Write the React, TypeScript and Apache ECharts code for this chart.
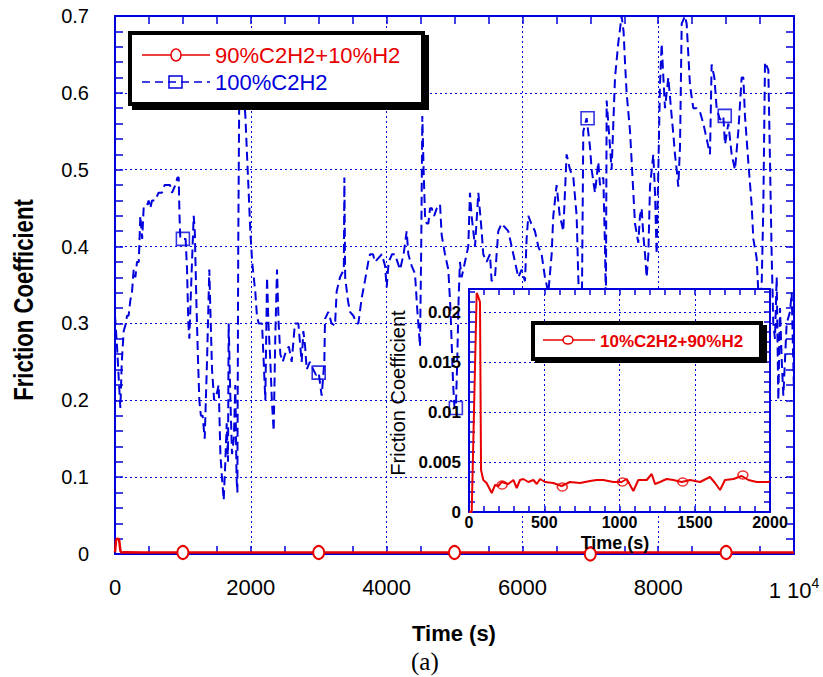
import React, { useEffect, useRef } from 'react';
import * as echarts from 'echarts';

// ---------- data ----------
const blueT = [0, 30, 60, 79, 100, 128, 160, 177, 200, 226, 250, 275, 300, 324, 350, 373, 400, 422, 460, 496, 520, 545, 594, 640, 692, 730, 766, 810, 840, 889, 920, 938, 950, 962, 990, 1011, 1040, 1061, 1080, 1095, 1110, 1134, 1159, 1175, 1198, 1220, 1242, 1265, 1291, 1321, 1355, 1389, 1410, 1429, 1460, 1502, 1527, 1552, 1575, 1601, 1625, 1645, 1664, 1674, 1700, 1723, 1750, 1772, 1790, 1802, 1815, 1830, 1860, 1895, 1920, 1944, 1969, 1993, 2020, 2067, 2090, 2116, 2165, 2190, 2214, 2239, 2260, 2288, 2310, 2337, 2360, 2386, 2410, 2435, 2470, 2504, 2560, 2602, 2650, 2700, 2749, 2774, 2800, 2823, 2870, 2920, 2960, 3000, 3030, 3044, 3083, 3093, 3142, 3190, 3240, 3265, 3314, 3370, 3378, 3390, 3430, 3461, 3510, 3560, 3584, 3633, 3682, 3730, 3756, 3800, 3829, 3879, 3930, 3977, 4001, 4030, 4080, 4124, 4160, 4198, 4250, 4296, 4320, 4369, 4418, 4450, 4492, 4510, 4526, 4545, 4566, 4590, 4615, 4640, 4664, 4700, 4740, 4787, 4811, 4860, 4909, 4940, 4960, 4980, 5000, 5020, 5040, 5060, 5080, 5105, 5130, 5203, 5228, 5252, 5302, 5351, 5400, 5424, 5473, 5522, 5547, 5596, 5645, 5694, 5792, 5842, 5891, 5940, 5989, 6038, 6062, 6087, 6130, 6185, 6234, 6283, 6332, 6382, 6431, 6455, 6504, 6550, 6578, 6602, 6651, 6701, 6750, 6799, 6823, 6850, 6872, 6897, 6946, 6995, 7020, 7069, 7118, 7143, 7192, 7216, 7230, 7241, 7290, 7314, 7364, 7412, 7462, 7490, 7511, 7535, 7585, 7634, 7658, 7707, 7732, 7756, 7781, 7806, 7830, 7855, 7879, 7928, 7953, 7977, 8002, 8026, 8051, 8076, 8100, 8149, 8198, 8223, 8247, 8272, 8296, 8321, 8346, 8395, 8419, 8468, 8517, 8566, 8616, 8665, 8714, 8763, 8787, 8827, 8861, 8910, 8959, 8984, 9033, 9082, 9131, 9180, 9229, 9254, 9278, 9327, 9376, 9401, 9450, 9475, 9499, 9524, 9548, 9573, 9622, 9671, 9695, 9720, 9745, 9769, 9794, 9820, 9843, 9892, 9941, 9966, 10000];
const blueV = [0.31, 0.27, 0.22, 0.19, 0.25, 0.29, 0.30, 0.31, 0.31, 0.33, 0.34, 0.37, 0.36, 0.38, 0.38, 0.44, 0.41, 0.45, 0.45, 0.46, 0.45, 0.46, 0.46, 0.47, 0.47, 0.48, 0.48, 0.48, 0.47, 0.48, 0.49, 0.49, 0.44, 0.41, 0.41, 0.41, 0.41, 0.37, 0.30, 0.28, 0.32, 0.38, 0.44, 0.42, 0.33, 0.26, 0.20, 0.18, 0.18, 0.15, 0.25, 0.37, 0.30, 0.24, 0.20, 0.21, 0.22, 0.13, 0.10, 0.07, 0.12, 0.17, 0.12, 0.30, 0.20, 0.13, 0.15, 0.22, 0.10, 0.08, 0.40, 0.60, 0.62, 0.60, 0.57, 0.52, 0.47, 0.42, 0.38, 0.34, 0.31, 0.30, 0.30, 0.25, 0.20, 0.36, 0.30, 0.25, 0.20, 0.16, 0.28, 0.37, 0.30, 0.26, 0.25, 0.26, 0.27, 0.25, 0.30, 0.30, 0.25, 0.29, 0.27, 0.24, 0.25, 0.24, 0.233, 0.236, 0.215, 0.206, 0.25, 0.306, 0.315, 0.30, 0.297, 0.342, 0.36, 0.37, 0.49, 0.36, 0.33, 0.315, 0.31, 0.30, 0.30, 0.333, 0.356, 0.38, 0.39, 0.39, 0.38, 0.385, 0.39, 0.375, 0.347, 0.38, 0.39, 0.39, 0.38, 0.37, 0.39, 0.42, 0.39, 0.375, 0.365, 0.32, 0.27, 0.40, 0.57, 0.50, 0.44, 0.43, 0.43, 0.45, 0.45, 0.44, 0.45, 0.455, 0.415, 0.39, 0.37, 0.32, 0.27, 0.22, 0.19, 0.19, 0.25, 0.33, 0.38, 0.36, 0.37, 0.40, 0.47, 0.44, 0.40, 0.47, 0.42, 0.39, 0.38, 0.39, 0.355, 0.36, 0.42, 0.43, 0.42, 0.40, 0.38, 0.36, 0.37, 0.355, 0.41, 0.44, 0.43, 0.42, 0.40, 0.39, 0.36, 0.34, 0.39, 0.44, 0.48, 0.44, 0.43, 0.42, 0.52, 0.50, 0.49, 0.44, 0.36, 0.30, 0.28, 0.55, 0.567, 0.53, 0.50, 0.47, 0.51, 0.48, 0.49, 0.40, 0.33, 0.59, 0.53, 0.50, 0.62, 0.665, 0.70, 0.68, 0.64, 0.60, 0.55, 0.47, 0.43, 0.405, 0.44, 0.45, 0.415, 0.39, 0.36, 0.39, 0.478, 0.52, 0.47, 0.39, 0.50, 0.61, 0.664, 0.62, 0.58, 0.62, 0.57, 0.546, 0.52, 0.50, 0.478, 0.53, 0.69, 0.70, 0.69, 0.61, 0.58, 0.58, 0.575, 0.56, 0.54, 0.52, 0.637, 0.62, 0.58, 0.565, 0.57, 0.533, 0.56, 0.52, 0.50, 0.55, 0.62, 0.62, 0.57, 0.51, 0.455, 0.41, 0.385, 0.34, 0.30, 0.35, 0.45, 0.64, 0.63, 0.39, 0.30, 0.28, 0.36, 0.20, 0.32, 0.25, 0.206, 0.30, 0.315, 0.34, 0.21];

const blueMarkT = [1000, 3000, 5020, 6960, 8980];
const blueMarkV = [0.41, 0.236, 0.19, 0.567, 0.57];

const redT = [0, 15, 35, 60, 80, 95, 150, 400, 800, 1500, 2500, 3500, 4500, 5500, 6500, 7500, 8500, 9500, 10000];
const redV = [0.002, 0.018, 0.02, 0.019, 0.004, 0.002, 0.0022, 0.0018, 0.0018, 0.0018, 0.0018, 0.0018, 0.0018, 0.0018, 0.0018, 0.0018, 0.0018, 0.0018, 0.0018];
const redMarkT = [1000, 3000, 5000, 7000, 9000];
const redMarkV = [0.002, 0.002, 0.002, 0.0, 0.002];

const insetT = [0, 18, 51, 62, 73, 80, 95, 117, 151, 173, 195, 217, 261, 295, 317, 339, 361, 394, 428, 450, 472, 505, 560, 616, 671, 738, 804, 848, 893, 959, 1014, 1048, 1092, 1125, 1181, 1214, 1236, 1269, 1313, 1358, 1413, 1469, 1535, 1601, 1635, 1668, 1701, 1757, 1812, 1857, 1912, 1989, 2000];
const insetV = [0, 0, 0.0219, 0.0215, 0.021, 0.0042, 0.0032, 0.0029, 0.0019, 0.0027, 0.0026, 0.003, 0.0028, 0.0032, 0.0024, 0.0032, 0.0033, 0.003, 0.0032, 0.0028, 0.0033, 0.003, 0.0029, 0.0026, 0.003, 0.0029, 0.0031, 0.0032, 0.0032, 0.003, 0.003, 0.0033, 0.0021, 0.0032, 0.0032, 0.0038, 0.0028, 0.003, 0.0033, 0.0032, 0.003, 0.0032, 0.003, 0.0035, 0.0029, 0.0022, 0.0032, 0.0033, 0.0036, 0.0032, 0.003, 0.003, 0.0031];
const insetMarkT = [220, 620, 1020, 1420, 1820];
const insetMarkV = [0.0027, 0.0025, 0.003, 0.003, 0.0037];

const mainXTicks = { min: 0, max: 10000, interval: 2000 };
const mainYTicks = { min: 0, max: 0.7, interval: 0.1 };
const insetXTicks = { min: 0, max: 2000, interval: 500 };
const insetYTicks = { min: 0, max: 0.0223, interval: 0.005 };

const legendMain = ['90%C2H2+10%H2', '100%C2H2'];
const legendInset = ['10%C2H2+90%H2'];

// ---------- styles ----------
const BLUE = '#0000dd';
const RED = '#e80000';
const FONT = "'Liberation Sans', Arial, Helvetica, sans-serif";

const zip = (a: number[], b: number[]) => a.map((t, i) => [t, b[i]]);

function axis(kind: 'x' | 'y', gridIndex: number, ticks: any, position: string, extra: any) {
  const z = gridIndex === 1 ? 11 : 0;
  return {
    type: 'value',
    gridIndex,
    position,
    min: ticks.min,
    max: ticks.max,
    interval: ticks.interval,
    z,
    axisLine: { show: true, onZero: false, lineStyle: { color: BLUE, width: 2 } },
    axisTick: { show: true, inside: true, length: extra.tickLen, lineStyle: { color: BLUE, width: 1.5 } },
    minorTick: { show: true, splitNumber: extra.minor, length: extra.tickLen, lineStyle: { color: BLUE, width: 1.5 } },
    splitLine: { show: !!extra.grid, lineStyle: { color: BLUE, width: 1, type: [2, 3] } },
    axisLabel: extra.label ? extra.label : { show: false },
  };
}

export default function App() {
  const ref = useRef<HTMLDivElement>(null);
  useEffect(() => {
    const chart = echarts.init(ref.current!, null, { renderer: 'svg' });
    const option: any = {
      animation: false,
      backgroundColor: '#fff',
      grid: [
        { left: 115, top: 16, width: 679, height: 538, show: false },
        { left: 469, top: 289, width: 301, height: 223, show: true, backgroundColor: '#fff', borderWidth: 0, z: 10 },
      ],
      xAxis: [
        axis('x', 0, mainXTicks, 'bottom', {
          tickLen: 8, minor: 4, grid: true,
          label: {
            show: true, color: '#000', fontSize: 22, fontFamily: FONT, margin: 22,
            formatter: (v: number) => (v === 10000 ? '1 10{sup|4}' : String(v)),
            rich: { sup: { fontSize: 14, fontFamily: FONT, color: '#000', padding: [0, 0, 14, 0] } },
          },
        }),
        axis('x', 0, mainXTicks, 'top', { tickLen: 8, minor: 4 }),
        axis('x', 1, insetXTicks, 'bottom', {
          tickLen: 6, minor: 5, grid: true,
          label: {
            show: true, color: '#000', fontSize: 16, fontWeight: 'bold', fontFamily: FONT, margin: 2,
            formatter: (v: number) => String(v),
          },
        }),
        axis('x', 1, insetXTicks, 'top', { tickLen: 6, minor: 5 }),
      ],
      yAxis: [
        axis('y', 0, mainYTicks, 'left', {
          tickLen: 8, minor: 5, grid: true,
          label: { show: true, color: '#000', fontSize: 20, fontFamily: FONT, margin: 26 },
        }),
        axis('y', 0, mainYTicks, 'right', { tickLen: 8, minor: 5 }),
        axis('y', 1, insetYTicks, 'left', {
          tickLen: 6, minor: 5, grid: true,
          label: {
            show: true, color: '#000', fontSize: 17, fontWeight: 'bold', fontFamily: FONT, margin: 8,
            showMaxLabel: false,
            formatter: (v: number) => (v === 0 ? '0' : String(Number(v.toFixed(4)))),
          },
        }),
        axis('y', 1, insetYTicks, 'right', { tickLen: 6, minor: 5 }),
      ],
      series: [
        {
          type: 'line', name: legendMain[1], xAxisIndex: 0, yAxisIndex: 0, z: 2,
          data: zip(blueT, blueV), showSymbol: false, symbol: 'none',
          lineStyle: { color: BLUE, width: 2, type: [9, 5] },
        },
        {
          type: 'line', name: legendMain[0], xAxisIndex: 0, yAxisIndex: 0, z: 3,
          data: zip(redT, redV), showSymbol: false, symbol: 'none',
          lineStyle: { color: RED, width: 2.5 },
        },
        {
          type: 'scatter', xAxisIndex: 0, yAxisIndex: 0, z: 4, clip: false,
          data: zip(blueMarkT, blueMarkV), symbol: 'rect', symbolSize: 13,
          itemStyle: { color: 'rgba(0,0,0,0)', borderColor: BLUE, borderWidth: 1.6 },
        },
        {
          type: 'scatter', xAxisIndex: 0, yAxisIndex: 0, z: 4, clip: false,
          data: zip(redMarkT, redMarkV), symbol: 'circle', symbolSize: [11, 13],
          itemStyle: { color: '#ffffff', opacity: 1, borderColor: RED, borderWidth: 2 },
        },
        {
          type: 'line', name: legendInset[0], xAxisIndex: 2, yAxisIndex: 2, z: 12,
          data: zip(insetT, insetV), showSymbol: false, symbol: 'none',
          lineStyle: { color: RED, width: 2 },
        },
        {
          type: 'scatter', xAxisIndex: 2, yAxisIndex: 2, z: 13, clip: false,
          data: zip(insetMarkT, insetMarkV), symbol: 'circle', symbolSize: [10, 8],
          itemStyle: { color: 'rgba(0,0,0,0)', borderColor: RED, borderWidth: 1.5 },
        },
      ],
      graphic: [
        // main legend box
        { type: 'rect', z: 50, shape: { x: 132, y: 35, width: 297, height: 75 }, style: { fill: '#000' } },
        { type: 'rect', z: 51, shape: { x: 130, y: 33, width: 293, height: 71 }, style: { fill: '#fff', stroke: '#000', lineWidth: 4 } },
        { type: 'line', z: 52, shape: { x1: 142, y1: 55, x2: 210, y2: 55 }, style: { stroke: RED, lineWidth: 1.5 } },
        { type: 'ellipse', z: 53, shape: { cx: 176, cy: 55, rx: 5, ry: 6 }, style: { fill: '#fff', stroke: RED, lineWidth: 1.5 } },
        { type: 'text', z: 53, x: 215, y: 55, style: { text: legendMain[0], fill: RED, fontSize: 22, fontFamily: FONT, align: 'left', textAlign: 'left', verticalAlign: 'middle', textVerticalAlign: 'middle' } },
        { type: 'line', z: 52, shape: { x1: 142, y1: 82, x2: 210, y2: 82 }, style: { stroke: BLUE, lineWidth: 1.5, lineDash: [8, 5] } },
        { type: 'rect', z: 53, shape: { x: 169, y: 76, width: 13, height: 12 }, style: { fill: 'rgba(0,0,0,0)', stroke: BLUE, lineWidth: 1.5 } },
        { type: 'text', z: 53, x: 215, y: 82, style: { text: legendMain[1], fill: BLUE, fontSize: 22, fontFamily: FONT, align: 'left', textAlign: 'left', verticalAlign: 'middle', textVerticalAlign: 'middle' } },
        // inset legend box
        { type: 'rect', z: 50, shape: { x: 535, y: 325, width: 232, height: 38 }, style: { fill: '#000' } },
        { type: 'rect', z: 51, shape: { x: 533, y: 323, width: 228, height: 36 }, style: { fill: '#fff', stroke: '#000', lineWidth: 4 } },
        { type: 'line', z: 52, shape: { x1: 543, y1: 340, x2: 595, y2: 340 }, style: { stroke: RED, lineWidth: 1.5 } },
        { type: 'ellipse', z: 53, shape: { cx: 568, cy: 340, rx: 5, ry: 4 }, style: { fill: '#fff', stroke: RED, lineWidth: 1.5 } },
        { type: 'text', z: 53, x: 600, y: 341, style: { text: legendInset[0], fill: RED, fontSize: 17, fontWeight: 'bold', fontFamily: FONT, align: 'left', textAlign: 'left', verticalAlign: 'middle', textVerticalAlign: 'middle' } },
        // titles
        { type: 'text', z: 60, x: 24, y: 300, rotation: Math.PI / 2, scaleX: 0.82, style: { text: 'Friction Coefficient', fill: '#000', fontSize: 27, fontWeight: 'bold', fontFamily: FONT, align: 'center', textAlign: 'center', verticalAlign: 'middle', textVerticalAlign: 'middle' } },
        { type: 'text', z: 60, x: 412, y: 633, style: { text: 'Time (s)', fill: '#000', fontSize: 22, fontWeight: 'bold', fontFamily: FONT, align: 'left', textAlign: 'left', verticalAlign: 'middle', textVerticalAlign: 'middle' } },
        { type: 'text', z: 60, x: 411, y: 661, style: { text: '(a)', fill: '#000', fontSize: 25, fontFamily: "'Liberation Serif', 'Times New Roman', serif", align: 'left', textAlign: 'left', verticalAlign: 'middle', textVerticalAlign: 'middle' } },
        { type: 'text', z: 60, x: 615, y: 543, style: { text: 'Time (s)', fill: '#000', fontSize: 18, fontWeight: 'bold', fontFamily: FONT, align: 'center', textAlign: 'center', verticalAlign: 'middle', textVerticalAlign: 'middle' } },
        { type: 'text', z: 60, x: 398, y: 393, rotation: Math.PI / 2, style: { text: 'Friction Coefficient', fill: '#000', fontSize: 20, fontFamily: FONT, align: 'center', textAlign: 'center', verticalAlign: 'middle', textVerticalAlign: 'middle' } },
      ],
    };
    chart.setOption(option);
    return () => chart.dispose();
  }, []);
  return <div ref={ref} style={{ position: 'absolute', left: 0, top: 0, width: 823, height: 677 }} />;
}
